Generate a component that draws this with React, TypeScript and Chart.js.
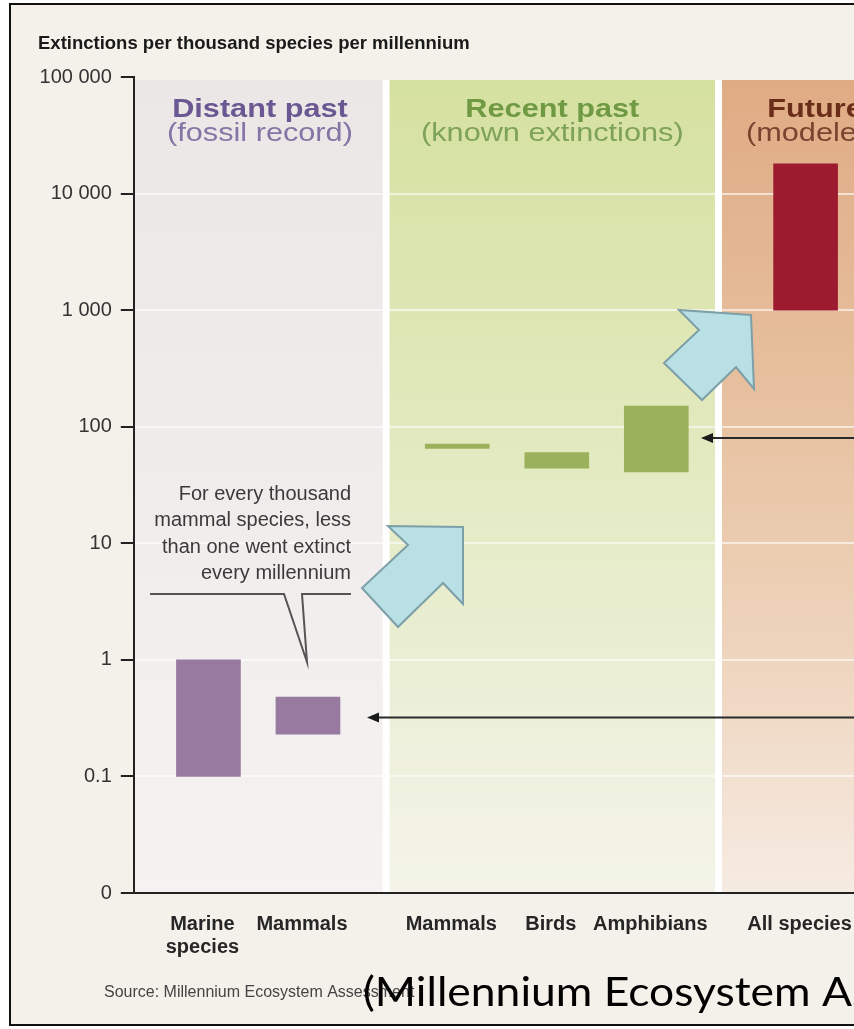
import { useEffect, useRef } from "react";
import { Chart, registerables } from "chart.js";

Chart.register(...registerables);

// ---- Data ----
const categories: (string | string[])[] = [
  "", ["Marine", "species"], "", "Mammals", "", "", "Mammals", "", "Birds", "", "Amphibians", "", "", "All species", "", "",
];
// extinction-rate ranges (per thousand species per millennium)
const rangeLow: (number | null)[] = [null, 0.1, null, 0.23, null, null, 65, null, 44, null, 41, null, null, 1000, null, null];
const rangeHigh: (number | null)[] = [null, 1, null, 0.48, null, null, 71, null, 60, null, 150, null, null, 18000, null, null];
const periodOf: string[] = ["", "distant", "", "distant", "", "", "recent", "", "recent", "", "recent", "", "", "future", "", ""];

const yTickValues = [0.01, 0.1, 1, 10, 100, 1000, 10000, 100000];
const yTickLabels = ["0", "0.1", "1", "10", "100", "1 000", "10 000", "100 000"];

const periodNames = ["Distant past", "Recent past", "Future"];
const periodSubs = ["(fossil record)", "(known extinctions)", "(modeled)"];
// band extents in category-axis units
const periodStart = [-0.5, 4.57, 11.25];
const periodEnd = [4.57, 11.25, 15.13];

const arrowTargets = [0.32, 80];

// ---- Styles ----
const barColors: Record<string, string> = { distant: "#98799f", recent: "#9cb15b", future: "#9d1b2f" };
const nameColors = ["#6b5892", "#6f9a43", "#6a2d1a"];
const subColors = ["#8574a5", "#7ea259", "#7a4330"];
const bandStops = [
  [[0, "#ebe7e6"], [0.5, "#efeceb"], [1, "#f5f3f2"]],
  [[0, "#d5e1a0"], [0.4, "#e1e8bb"], [0.7, "#eaeed3"], [1, "#f4f4ea"]],
  [[0, "#dfab84"], [0.45, "#e8c4a4"], [0.7, "#eed4bd"], [1, "#f6ebe2"]],
];

const decorPlugin = {
  id: "decor",
  beforeDraw(chart: any) {
    const { ctx, chartArea } = chart;
    const x = chart.scales.x;
    ctx.save();
    ctx.fillStyle = "#ffffff";
    ctx.fillRect(0, 0, chart.width, chart.height);
    ctx.fillStyle = "#f3f1ea";
    ctx.fillRect(10, 4, chart.width, 1021);
    const bandTop = chartArea.top + 3;
    const bandBottom = chartArea.bottom;
    for (let i = 0; i < periodNames.length; i++) {
      const x0 = Math.max(x.getPixelForValue(periodStart[i]), chartArea.left);
      const x1 = x.getPixelForValue(periodEnd[i]);
      const g = ctx.createLinearGradient(0, bandTop, 0, bandBottom);
      bandStops[i].forEach((s: any) => g.addColorStop(s[0], s[1]));
      ctx.fillStyle = g;
      ctx.fillRect(x0, bandTop, x1 - x0 + (i === 2 ? 200 : 0), bandBottom - bandTop);
    }
    ctx.fillStyle = "#ffffff";
    for (let i = 1; i < periodNames.length; i++) {
      const px = x.getPixelForValue(periodStart[i]);
      ctx.fillRect(px - 3.5, bandTop, 7, bandBottom - bandTop);
    }
    ctx.strokeStyle = "#111";
    ctx.lineWidth = 2;
    ctx.strokeRect(10, 4, chart.width + 20, 1021);
    ctx.restore();
  },
  afterDraw(chart: any) {
    const { ctx } = chart;
    const x = chart.scales.x;
    const y = chart.scales.y;
    ctx.save();
    // title
    ctx.fillStyle = "#1a1a1a";
    ctx.font = "bold 18.5px 'Liberation Sans', Arial, sans-serif";
    ctx.textAlign = "left";
    ctx.textBaseline = "alphabetic";
    ctx.fillText("Extinctions per thousand species per millennium", 38, 49);

    // period titles
    for (let i = 0; i < periodNames.length; i++) {
      const cx = x.getPixelForValue((periodStart[i] + periodEnd[i]) / 2);
      ctx.textAlign = "center";
      ctx.save();
      ctx.translate(cx, 117);
      ctx.scale(1.18, 1);
      ctx.font = "bold 26px 'Liberation Sans', Arial, sans-serif";
      ctx.fillStyle = nameColors[i];
      ctx.fillText(periodNames[i], 0, 0);
      ctx.restore();
      ctx.save();
      ctx.translate(cx, 141);
      ctx.scale(1.18, 1);
      ctx.font = "26px 'Liberation Sans', Arial, sans-serif";
      ctx.fillStyle = subColors[i];
      ctx.fillText(periodSubs[i], 0, 0);
      ctx.restore();
    }

    // callout
    ctx.fillStyle = "#3a3a3a";
    ctx.font = "20px 'Liberation Sans', Arial, sans-serif";
    ctx.textAlign = "right";
    const lines = ["For every thousand", "mammal species, less", "than one went extinct", "every millennium"];
    lines.forEach((l, k) => ctx.fillText(l, 351, 500 + k * 26.3));
    ctx.strokeStyle = "#555";
    ctx.lineWidth = 2;
    ctx.lineJoin = "miter";
    ctx.beginPath();
    ctx.moveTo(150, 594);
    ctx.lineTo(284, 594);
    ctx.lineTo(307, 662);
    ctx.lineTo(302, 594);
    ctx.lineTo(351, 594);
    ctx.stroke();

    // black pointer arrows
    const tips = [367, 701];
    arrowTargets.forEach((v, k) => {
      const py = y.getPixelForValue(v);
      ctx.strokeStyle = "#2a2a2a";
      ctx.lineWidth = 2;
      ctx.beginPath();
      ctx.moveTo(tips[k] + 8, py);
      ctx.lineTo(chart.width, py);
      ctx.stroke();
      ctx.fillStyle = "#1a1a1a";
      ctx.beginPath();
      ctx.moveTo(tips[k], py);
      ctx.lineTo(tips[k] + 12, py - 5);
      ctx.lineTo(tips[k] + 12, py + 5);
      ctx.closePath();
      ctx.fill();
    });

    // blue block arrows
    const shapes = [
      [[463, 527], [388, 526], [408, 545], [362, 588], [398, 627], [443, 583], [463, 604]],
      [[751, 315], [679, 310], [699, 330], [664, 363], [702, 400], [736, 367], [754, 389]],
    ];
    shapes.forEach((pts) => {
      ctx.beginPath();
      pts.forEach((p, k) => (k === 0 ? ctx.moveTo(p[0], p[1]) : ctx.lineTo(p[0], p[1])));
      ctx.closePath();
      ctx.fillStyle = "#b8e0e5";
      ctx.fill();
      ctx.strokeStyle = "#7d9fa8";
      ctx.lineWidth = 2;
      ctx.stroke();
    });

    // source
    ctx.textAlign = "left";
    ctx.fillStyle = "#444";
    ctx.font = "16px 'Liberation Sans', Arial, sans-serif";
    ctx.fillText("Source: Millennium Ecosystem Assessment", 104, 997);

    // overlay caption
    ctx.fillStyle = "#000";
    ctx.font = "40px Lato, 'Open Sans', sans-serif";
    const w = ctx.measureText("(Millennium Ecosystem A").width;
    ctx.save();
    ctx.translate(363, 1006);
    ctx.scale(489 / w, 1);
    ctx.fillText("(Millennium Ecosystem Assessment)", 0, 0);
    ctx.restore();
    ctx.restore();
  },
};

export default function App() {
  const ref = useRef<HTMLCanvasElement>(null);
  useEffect(() => {
    if (!ref.current) return;
    const data = categories.map((_, i) =>
      rangeLow[i] == null ? null : [rangeLow[i] as number, rangeHigh[i] as number]
    );
    const chart = new Chart(ref.current, {
      type: "bar",
      data: {
        labels: categories as any,
        datasets: [
          {
            data: data as any,
            backgroundColor: periodOf.map((p) => barColors[p] || "transparent"),
            borderWidth: 0,
            borderSkipped: false,
            barThickness: 64,
          },
        ],
      },
      options: {
        animation: false,
        responsive: false,
        devicePixelRatio: 1,
        events: [],
        layout: { padding: { top: 77, right: 30, left: 0, bottom: 0 } },
        plugins: { legend: { display: false }, tooltip: { enabled: false } },
        scales: {
          x: {
            type: "category",
            grid: { display: false, drawTicks: false },
            border: { display: true, color: "#222", width: 2 },
            ticks: {
              autoSkip: false,
              maxRotation: 0,
              minRotation: 0,
              padding: 20,
              labelOffset: -6,
              color: "#262626",
              font: { family: "'Liberation Sans', Arial, sans-serif", size: 20, weight: "bold", lineHeight: 1.15 },
            },
            afterFit: (s: any) => {
              s.height = 136;
            },
          },
          y: {
            type: "logarithmic",
            min: 0.01,
            max: 100000,
            afterBuildTicks: (s: any) => {
              s.ticks = yTickValues.map((v) => ({ value: v }));
            },
            afterFit: (s: any) => {
              s.width = 133.8;
            },
            grid: {
              color: (c: any) =>
                c.index === 0 || c.index === yTickValues.length - 1 ? "rgba(0,0,0,0)" : "rgba(255,255,255,0.6)",
              lineWidth: 2,
              drawTicks: true,
              tickLength: 13,
              tickColor: "#222",
              tickWidth: 2,
            },
            border: { display: true, color: "#222", width: 2 },
            ticks: {
              autoSkip: false,
              padding: 9,
              color: "#333",
              font: { family: "'Liberation Sans', Arial, sans-serif", size: 20 },
              callback: (_v: any, i: number) => yTickLabels[i],
            },
          },
        },
      },
      plugins: [decorPlugin],
    });
    return () => chart.destroy();
  }, []);
  return (
    <div
      style={{
        position: "fixed",
        left: 0,
        top: 0,
        width: 854,
        height: 1029,
        overflow: "hidden",
        background: "#fff",
      }}
    >
      <canvas ref={ref} width={960} height={1029} style={{ display: "block", width: 960, height: 1029 }} />
    </div>
  );
}
